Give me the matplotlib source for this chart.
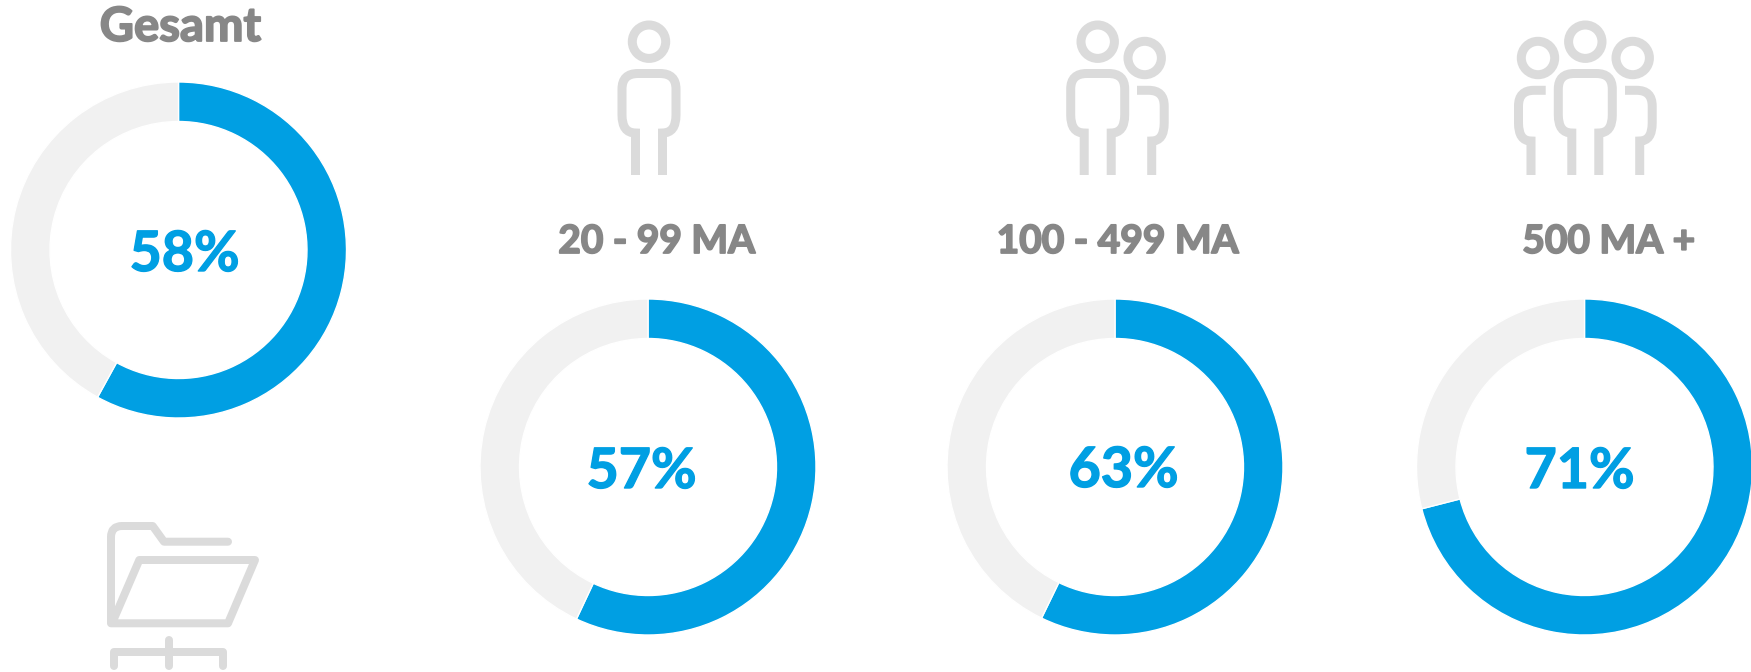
#!/usr/bin/python
# Donut charts with line icons, figure is laid out in pixels of the 1751x672 picture
import matplotlib
matplotlib.use("Agg")
import matplotlib.pyplot as plt
import matplotlib.patheffects as pe
from matplotlib.path import Path
from matplotlib.patches import PathPatch, Circle

WIDTH = 1751
HEIGHT = 672
DPI = 100

plt.rcParams['font.family'] = ['Lato', 'DejaVu Sans']
plt.rcParams['text.hinting'] = 'no_hinting'
plt.rcParams['text.hinting_factor'] = 1

# Filled share of each ring, and the number printed in it
# (the 63% ring is drawn shorter than its label in the original)
categories = ["Gesamt", "20 - 99 MA", "100 - 499 MA", "500 MA +"]
ring_values = [58, 57, 57.2, 71]
ring_labels = ["58%", "57%", "63%", "71%"]

ring_x = [178.5, 648, 1115, 1584.5]
ring_y = [250, 467, 467, 467]
ring_radius = 168
ring_width = 39.5

pct_x = [185, 642, 1124, 1580]
pct_y = [271, 488, 487, 488]
title_x = [180, 657, 1118, 1609]
title_y = [41, 253, 253, 253]
title_size = [34, 28, 28, 28]

BLUE = "#009FE3"
LIGHT = "#F1F1F1"
GREY = "#878787"
ICON = "#DBDBDB"
LW = 9 * 72 / DPI


def big_person(ax, cx):
    ax.add_patch(Circle((cx, 41.7), 16.7, fill=False, ec=ICON, lw=LW))
    verts = [(cx-13.5, 175), (cx-13.5, 133), (cx-27, 133), (cx-27, 115), (cx-27, 89), (cx-27, 73.5), (cx-11, 73.5),
             (cx+11, 73.5), (cx+27, 73.5), (cx+27, 89), (cx+27, 115), (cx+27, 133), (cx+13.5, 133), (cx+13.5, 175)]
    codes = [Path.MOVETO, Path.LINETO, Path.CURVE3, Path.CURVE3, Path.LINETO, Path.CURVE3, Path.CURVE3,
             Path.LINETO, Path.CURVE3, Path.CURVE3, Path.LINETO, Path.CURVE3, Path.CURVE3, Path.LINETO]
    ax.add_patch(PathPatch(Path(verts, codes), fill=False, ec=ICON, lw=LW, capstyle='butt'))


def small_person(ax, cx, side):
    # side is +1 for a figure standing on the right, -1 for the left one
    ax.add_patch(Circle((cx, 58), 16.7, fill=False, ec=ICON, lw=LW))
    verts = [(cx-7.7*side, 90.3), (cx+4*side, 90.3), (cx+19.5*side, 90.3), (cx+19.5*side, 106),
             (cx+19.5*side, 123), (cx+19.5*side, 141), (cx+7*side, 141), (cx+7*side, 175)]
    codes = [Path.MOVETO, Path.LINETO, Path.CURVE3, Path.CURVE3,
             Path.LINETO, Path.CURVE3, Path.CURVE3, Path.LINETO]
    ax.add_patch(PathPatch(Path(verts, codes), fill=False, ec=ICON, lw=LW, capstyle='butt'))


def folder(ax):
    lw = 8 * 72 / DPI
    back = [(228, 541.7), (164, 541.7), (152.7, 526), (122, 526), (111, 526), (111, 537), (111, 623.3),
            (228, 623.3), (255, 560), (139.3, 560), (113, 621)]
    codes = [Path.MOVETO, Path.LINETO, Path.LINETO, Path.LINETO, Path.CURVE3, Path.CURVE3, Path.LINETO,
             Path.LINETO, Path.LINETO, Path.LINETO, Path.LINETO]
    ax.add_patch(PathPatch(Path(back, codes), fill=False, ec=ICON, lw=lw, capstyle='round', joinstyle='round'))
    stand = [(114.3, 666), (114.3, 652.3), (223.3, 652.3), (223.3, 666)]
    ax.add_patch(PathPatch(Path(stand), fill=False, ec=ICON, lw=lw, capstyle='round', joinstyle='round'))
    post = [(168.7, 640), (168.7, 666)]
    ax.add_patch(PathPatch(Path(post), fill=False, ec=ICON, lw=lw, capstyle='round'))


fig = plt.figure(figsize=(WIDTH / DPI, HEIGHT / DPI), dpi=DPI, facecolor='white')

for i in range(len(ring_values)):
    box = ring_radius * 1.05
    ax = fig.add_axes([(ring_x[i] - box) / WIDTH, 1 - (ring_y[i] + box) / HEIGHT,
                       2 * box / WIDTH, 2 * box / HEIGHT])
    ax.pie([ring_values[i], 100 - ring_values[i]], colors=[BLUE, LIGHT], startangle=90, counterclock=False,
           radius=1, wedgeprops=dict(width=ring_width / ring_radius, edgecolor='white', linewidth=1))
    ax.set_xlim(-1.05, 1.05)
    ax.set_ylim(-1.05, 1.05)

# overlay in picture pixels for the icons and the texts
top = fig.add_axes([0, 0, 1, 1])
top.set_xlim(0, WIDTH)
top.set_ylim(HEIGHT, 0)
top.axis('off')
top.patch.set_alpha(0)

big_person(top, 649)
big_person(top, 1097.7)
small_person(top, 1144.7, 1)
big_person(top, 1585.3)
small_person(top, 1538, -1)
small_person(top, 1632.7, 1)
folder(top)

# Lato bold is lighter than the original face, a thin outline brings it closer
for i in range(len(categories)):
    top.text(title_x[i], title_y[i], categories[i], color=GREY, fontsize=title_size[i], fontweight='bold',
             ha='center', va='baseline', path_effects=[pe.withStroke(linewidth=1.3, foreground=GREY)])
    top.text(pct_x[i], pct_y[i], ring_labels[i], color=BLUE, fontsize=40, fontweight='bold',
             ha='center', va='baseline', path_effects=[pe.withStroke(linewidth=1.0, foreground=BLUE)])

fig.savefig("out.png", dpi=DPI)
